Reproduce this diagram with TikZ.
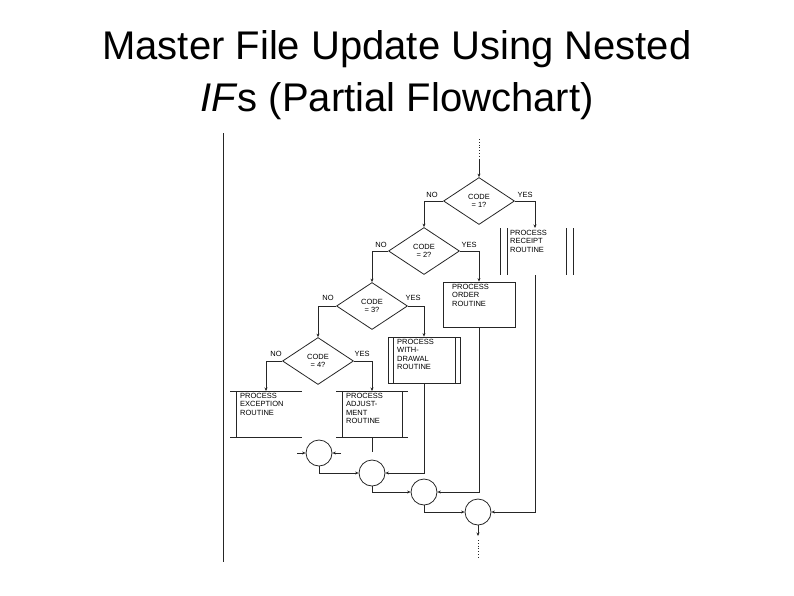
\documentclass[tikz,border=0pt]{standalone}
\usepackage{fontspec}
\setmainfont{Liberation Sans}
\usetikzlibrary{arrows.meta,shapes.geometric}
\begin{document}
\begin{tikzpicture}[x=1pt,y=-1pt,
 ln/.style={line width=0.8pt,draw=black!85},
 ar/.style={ln,-{Stealth[length=3.5pt,width=3pt]}},
 dia/.style={diamond,ln,minimum width=71pt,minimum height=47pt,inner sep=0pt,aspect=1.5},
 lab/.style={font=\fontsize{7.5}{8.5}\selectfont,align=left,inner sep=0pt},
 circ/.style={circle,ln,minimum size=26pt,inner sep=0pt},
 ttl/.style={font=\fontsize{40}{46}\selectfont}]
\useasboundingbox (0,0) rectangle (794,595);
\node[ttl] (t1) at (397,49) {Master File Update Using Nested};
\node[ttl] (t2) at (397,101) {\textit{IF}s (Partial Flowchart)};
\draw[ln] (223,133) -- (223,562);
% decisions
\node[dia] (d1) at (479,201) {};
\node[dia] (d2) at (424,251) {};
\node[dia] (d3) at (372,306) {};
\node[dia] (d4) at (318,361) {};
\foreach \d/\n in {d1/1,d2/2,d3/3,d4/4}
 \node[lab,align=center] at (\d) {CODE\\= \n?};
\node[lab] at (432,195) {NO}; \node[lab] at (525,195) {YES};
\node[lab] at (381,245) {NO}; \node[lab] at (469,245) {YES};
\node[lab] at (328,298) {NO}; \node[lab] at (413,298) {YES};
\node[lab] at (276,354) {NO}; \node[lab] at (362,354) {YES};
% top dots
\coordinate (top) at (479,160);
\draw[ln,dotted,line width=1pt] (479,139) -- (top);
\draw[ar] (top) -- (d1.north);
% receipt box
\coordinate (rc) at (536,251);
\draw[ln] (500,228) -- (500,275) (507,228) -- (507,275) (566,228) -- (566,275) (573,228) -- (573,275);
\node[lab,anchor=north west] (rec) at (510,230) {PROCESS\\RECEIPT\\ROUTINE};
\coordinate (rtop) at (535,228); \coordinate (rbot) at (535,275);
\draw[ar] (d1.east) -| (rtop);
% order
\node[ln,draw,minimum width=72pt,minimum height=45pt,inner sep=0pt] (ord) at (479,304.5) {};
\node[lab,anchor=north west] at (452,284) {PROCESS\\ORDER\\ROUTINE};
\draw[ar] (d2.east) -| (ord.north);
\draw[ar] (d1.west) -| (d2.north);
% withdrawal
\node[ln,draw,minimum width=72pt,minimum height=46pt,inner sep=0pt] (wd) at (424,360) {};
\draw[ln] (393,337) -- (393,383) (455,337) -- (455,383);
\node[lab,anchor=north west] at (397,339) {PROCESS\\WITH-\\DRAWAL\\ROUTINE};
\draw[ar] (d3.east) -| (wd.north);
\draw[ar] (d2.west) -| (d3.north);
\draw[ar] (d3.west) -| (d4.north);
% exception
\draw[ln] (230,391) -- (302,391) (230,437) -- (302,437) (236,391) -- (236,437);
\node[lab,anchor=north west] at (240,393) {PROCESS\\EXCEPTION\\ROUTINE};
\coordinate (ex) at (266,391);
\draw[ar] (d4.west) -| (ex);
% adjustment
\draw[ln] (336,391) -- (408,391) (336,437) -- (408,437) (342,391) -- (342,437) (402,391) -- (402,437);
\node[lab,anchor=north west] at (346,393) {PROCESS\\ADJUST-\\MENT\\ROUTINE};
\coordinate (adj) at (372,391); \coordinate (adjb) at (372,437);
\draw[ar] (d4.east) -| (adj);
% connectors
\node[circ] (c1) at (319,453) {};
\node[circ] (c2) at (372,473) {};
\node[circ] (c3) at (424,492) {};
\node[circ] (c4) at (478,512) {};
\coordinate (a1) at (300,453); \coordinate (a2) at (338,453);
\draw[ar] ([xshift=-3pt]a1) -- (c1.west);
\draw[ar] ([xshift=3pt]a2) -- (c1.east);
\draw[ln] (adjb) -- (372,452);
\draw[ar] (c1.south) |- (c2.west);
\draw[ar] (wd.south) |- (c2.east);
\draw[ar] (c2.south) |- (c3.west);
\draw[ar] (ord.south) |- (c3.east);
\draw[ar] (c3.south) |- (c4.west);
\draw[ar] (rbot) |- (c4.east);
\coordinate (bot) at (478,536);
\draw[ar] (c4.south) -- (bot);
\draw[ln,dotted,line width=1pt] (478,540) -- (478,558);
\end{tikzpicture}
\end{document}
